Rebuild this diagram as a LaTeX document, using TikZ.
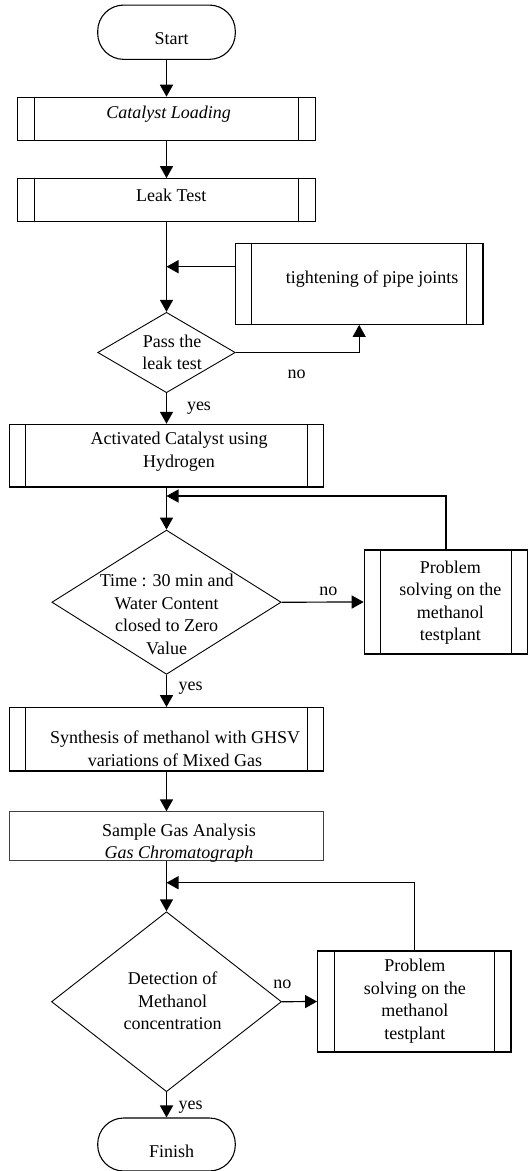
\documentclass[tikz,border=0pt]{standalone}
\usepackage{fontspec}
\setmainfont{Liberation Serif}
\usetikzlibrary{shapes.geometric,arrows.meta}

\begin{document}
\begin{tikzpicture}[x=1pt,y=-1pt,
		font=\fontsize{18}{22.5}\selectfont,
		arr/.style={line width=1.6pt,-{Triangle[length=12pt,width=13pt]}},
		loop/.style={line width=1.2pt,-{Triangle[length=12pt,width=13pt]}},
		term/.style={draw,line width=1.1pt,rectangle,rounded corners=26pt,inner sep=0pt},
		subproc/.style={draw,line width=1.2pt,rectangle,inner sep=0pt,
			path picture={
				\draw[line width=1.2pt] ([xshift=16.5pt]path picture bounding box.north west) -- ([xshift=16.5pt]path picture bounding box.south west);
				\draw[line width=1.2pt] ([xshift=-16.5pt]path picture bounding box.north east) -- ([xshift=-16.5pt]path picture bounding box.south east);
			}},
		plainbox/.style={draw=black!75,line width=0.8pt,rectangle,inner sep=0pt},
		decide/.style={draw,line width=0.9pt,diamond,inner sep=0pt},
		txt/.style={align=center,inner sep=0pt}]
		\useasboundingbox (0,0) rectangle (532,1171);

		% shapes
		\node[term,minimum width=137.6pt,minimum height=54.3pt] (start) at (166.5,32.2) {};
		\node[subproc,minimum width=297.6pt,minimum height=43.4pt] (load) at (166.5,119) {};
		\node[subproc,minimum width=297.6pt,minimum height=43pt] (leak) at (166.5,200.2) {};
		\node[subproc,minimum width=247.7pt,minimum height=80.6pt] (tight) at (359.2,284) {};
		\node[decide,minimum width=137.6pt,minimum height=80.4pt] (pass) at (166.5,352.5) {};
		\node[subproc,minimum width=314.4pt,minimum height=62.7pt] (act) at (166.5,455.7) {};
		\node[decide,minimum width=229.3pt,minimum height=144.3pt] (time) at (166.5,602.2) {};
		\node[subproc,minimum width=163.4pt,minimum height=104pt] (prob1) at (446,602) {};
		\node[subproc,minimum width=314.4pt,minimum height=63.3pt] (synth) at (166.5,739.3) {};
		\node[plainbox,minimum width=314.4pt,minimum height=49pt] (sample) at (166.5,836.2) {};
		\node[decide,minimum width=230pt,minimum height=180pt] (detect) at (166.5,1001.7) {};
		\node[subproc,minimum width=193.3pt,minimum height=101pt] (prob2) at (414.3,1001.5) {};
		\node[term,minimum width=137.6pt,minimum height=53pt] (finish) at (166.5,1144.5) {};

		% texts
		\node[txt] (t-start) at (171.7,39) {Start};
		\node[txt] (t-load) at (168.7,114.3) {\itshape Catalyst Loading};
		\node[txt] (t-leak) at (171.3,195) {Leak Test};
		\node[txt] (t-tight) at (372,279.3) {tightening of pipe joints};
		\node[txt] (t-pass) at (172.2,352.5) {Pass the\\leak test};
		\node[txt] (t-act) at (179,451.5) {Activated Catalyst using\\Hydrogen};
		\node[txt] (t-time) at (166.7,614.5) {Time : 30 min and\\Water Content\\closed to Zero\\Value};
		\node[txt] (t-prob1) at (450.3,602.5) {Problem\\solving on the\\methanol\\testplant};
		\node[txt] (t-synth) at (175,748.5) {Synthesis of methanol with GHSV\\variations of Mixed Gas};
		\node[txt] (t-sample) at (179,843) {Sample Gas Analysis\\\itshape Gas Chromatograph};
		\node[txt] (t-detect) at (172.7,1001) {Detection of\\Methanol\\concentration};
		\node[txt] (t-prob2) at (414.8,1001.2) {Problem\\solving on the\\methanol\\testplant};
		\node[txt] (t-finish) at (171.7,1151.7) {Finish};

		% branch labels
		\node[txt] (no1) at (296.7,374) {no};
		\node[txt] (yes1) at (199,407.7) {yes};
		\node[txt] (no2) at (328.3,591.7) {no};
		\node[txt] (yes2) at (190.7,688.3) {yes};
		\node[txt] (no3) at (282.3,984) {no};
		\node[txt] (yes3) at (190.7,1106.7) {yes};

		% joints on the main line
		\coordinate (j1) at (166.5,266.7);
		\coordinate (j2) at (166.5,496);
		\coordinate (j3) at (166.5,882.7);

		% connectors
		\draw[arr] (start) -- (load);
		\draw[arr] (load) -- (leak);
		\draw[arr] (leak) -- (pass);
		\draw[loop] (tight.west |- j1) -- (j1);
		\draw[loop] (pass.east) -| (tight.south);
		\draw[arr] (pass) -- (act);
		\draw[arr] (act) -- (time);
		\draw[loop] (prob1.north) |- (j2);
		\draw[loop] (time.east) -- (prob1.west);
		\draw[arr] (time) -- (synth);
		\draw[arr] (synth) -- (sample);
		\draw[arr] (sample) -- (detect);
		\draw[loop] (prob2.north) |- (j3);
		\draw[loop] (detect.east) -- (prob2.west);
		\draw[arr] (detect) -- (finish);
	\end{tikzpicture}
\end{document}
